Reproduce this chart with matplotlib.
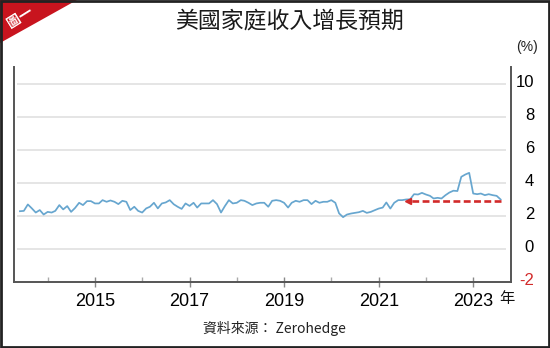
import numpy as np
import pandas as pd
import matplotlib
matplotlib.use("Agg")
import matplotlib.pyplot as plt
from matplotlib.patches import Rectangle, Polygon
import matplotlib.transforms as mtrans

# ---- data ----
start_month = "2013-06-01"
income_growth = [
    2.28, 2.30, 2.69, 2.45, 2.20, 2.35, 2.08, 2.24, 2.20, 2.30,
    2.65, 2.39, 2.59, 2.24, 2.48, 2.79, 2.65, 2.89, 2.89, 2.75,
    2.75, 2.95, 2.85, 2.93, 2.85, 2.71, 2.91, 2.85, 2.35, 2.55,
    2.30, 2.20, 2.45, 2.55, 2.79, 2.45, 2.75, 2.81, 2.95, 2.70,
    2.55, 2.42, 2.75, 2.60, 2.79, 2.50, 2.75, 2.75, 2.75, 2.95,
    2.71, 2.20, 2.59, 2.95, 2.75, 2.79, 2.95, 2.91, 2.79, 2.65,
    2.75, 2.79, 2.79, 2.55, 2.91, 2.95, 2.91, 2.79, 2.50, 2.79,
    2.91, 2.85, 2.95, 2.95, 2.71, 2.91, 2.79, 2.85, 2.85, 2.95,
    2.79, 2.15, 1.92, 2.08, 2.14, 2.18, 2.22, 2.30, 2.18, 2.24,
    2.34, 2.44, 2.50, 2.81, 2.44, 2.79, 2.95, 2.95, 2.99, 3.00,
    3.31, 3.29, 3.39, 3.29, 3.21, 3.05, 3.09, 3.05, 3.25, 3.41,
    3.52, 3.50, 4.36, 4.50, 4.60, 3.35, 3.31, 3.35, 3.25, 3.31,
    3.25, 3.21, 2.99,
]
arrow_level = 2.91
arrow_start = "2023-08-01"
arrow_end = "2021-08-15"
year_ticks = [2015, 2017, 2019, 2021, 2023]
minor_years = [2014, 2016, 2018, 2020, 2022]
y_ticks = [-2, 0, 2, 4, 6, 8, 10]
title = "美國家庭收入增長預期"
source = "資料來源： Zerohedge"

dates = pd.date_range(start_month, periods=len(income_growth), freq="MS")

W, H = 550, 348
fig = plt.figure(figsize=(W / 100, H / 100), dpi=100)
ax = fig.add_axes([14 / W, 1 - 282 / H, (511 - 14) / W, (282 - 67) / H])

LINE = "#67a6cf"
RED = "#d22a2a"
SPINE = "#555555"

ax.set_ylim(-2, 11)
ax.set_xlim(pd.Timestamp("2013-04-16"), pd.Timestamp("2023-10-20"))

# grid lines (not touching spines)
trans = ax.get_yaxis_transform()
ax.hlines([t for t in y_ticks if t > -2], 0.006, 0.99, transform=trans,
          color="#e0e0e0", lw=1.2, zorder=1)

ax.plot(dates, income_growth, color=LINE, lw=1.25, zorder=3)

# red dashed arrow
xa0, xa1 = pd.Timestamp(arrow_start), pd.Timestamp(arrow_end)
ax.plot([xa0, xa1], [arrow_level, arrow_level], color=RED, lw=1.9,
        dashes=(2.6, 1.3), zorder=4)
ax.plot([xa1], [arrow_level], marker="<", ms=5, color=RED, mec=RED, zorder=4)

# spines
for s in ["left", "right", "bottom"]:
    ax.spines[s].set_color(SPINE)
    ax.spines[s].set_linewidth(1.4)
ax.spines["top"].set_visible(False)

# x ticks
ax.set_xticks([pd.Timestamp(f"{y}-01-01") for y in year_ticks])
ax.set_xticklabels([str(y) for y in year_ticks])
ax.set_xticks([pd.Timestamp(f"{y}-01-01") for y in minor_years], minor=True)
ax.tick_params(axis="x", which="major", direction="inout", length=7.2,
               width=1, color="#888888", pad=4, labelsize=13)
ax.tick_params(axis="x", which="minor", direction="in", length=3.5,
               width=1, color="#aaaaaa")
for lab in ax.get_xticklabels():
    lab.set_fontfamily("Liberation Sans")

# y ticks on right
ax.yaxis.tick_right()
ax.set_yticks(y_ticks)
ax.set_yticklabels([str(t) for t in y_ticks])
ax.tick_params(axis="y", length=0, pad=16.6, labelsize=12)
off = mtrans.ScaledTranslation(0, 3 / 100, fig.dpi_scale_trans)
for lab, t in zip(ax.get_yticklabels(), y_ticks):
    lab.set_ha("right")
    lab.set_fontfamily("Liberation Sans")
    lab.set_transform(lab.get_transform() + off)
    if t < 0:
        lab.set_color(RED)

# texts
fig.text(289 / W, 1 - 21 / H, title, ha="center", va="center", fontsize=16.5,
         family="Noto Sans CJK TC", color="#1a1a1a", fontweight="medium")
fig.text(527 / W, 1 - 47 / H, "(%)", ha="center", va="center", fontsize=10,
         family="Liberation Sans", color="#222222")
fig.text(507 / W, 1 - 299 / H, "年", ha="center", va="center", fontsize=11,
         family="Noto Sans CJK TC", color="#111111")
fig.text(274 / W, 1 - 328 / H, source, ha="center", va="center", fontsize=10,
         family=["Noto Sans CJK TC", "DejaVu Sans"], color="#222222")

# corner badge
tri = Polygon([(0, 1), (77 / W, 1), (0, 1 - 43 / H)], closed=True,
              transform=fig.transFigure, facecolor="#c8141e", edgecolor="none",
              zorder=5)
fig.patches.append(tri)
fig.text(20 / W, 1 - 17 / H, "圖一", ha="center", va="center", fontsize=10,
         family="Noto Sans CJK TC", color="white", rotation=32,
         fontweight="bold", zorder=6)

# figure border
border = Rectangle((0.0015, 0.002), 0.997, 0.996, transform=fig.transFigure,
                   fill=False, edgecolor="#222222", lw=2, zorder=7)
fig.patches.append(border)

fig.savefig("out.png", dpi=100)
